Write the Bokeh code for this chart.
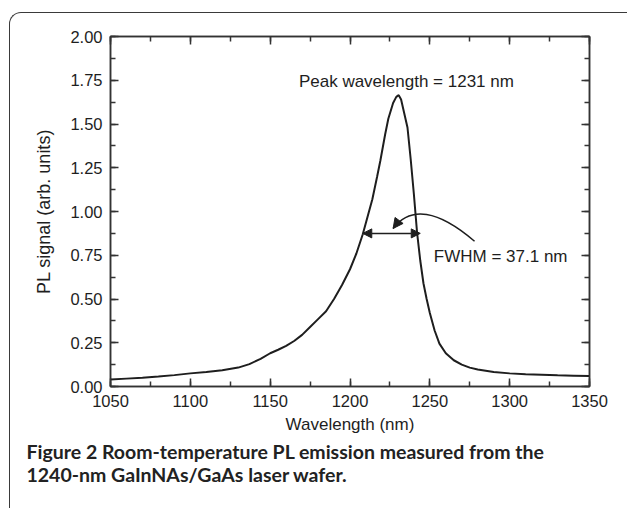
from bokeh.plotting import figure
from bokeh.models import (LinearAxis, SingleIntervalTicker, PrintfTickFormatter,
                          Label, Arrow, NormalHead, Range1d, Title, InlineStyleSheet)
from bokeh.embed import file_html
from bokeh.resources import INLINE

# ---- data ----
wavelength = [1050, 1060, 1070, 1080, 1090, 1100, 1110, 1120, 1130, 1137,
              1144, 1150, 1155, 1160, 1165, 1170, 1175, 1180, 1185, 1190, 1195,
              1200, 1204, 1208, 1211, 1214, 1217, 1219, 1222, 1224, 1227,
              1229, 1230.5, 1232, 1234, 1236, 1238, 1240, 1242, 1244, 1246,
              1248, 1250, 1253, 1256, 1260, 1265, 1270, 1275, 1280, 1290,
              1300, 1310, 1320, 1330, 1340, 1350]
pl_signal = [0.040, 0.045, 0.050, 0.057, 0.065, 0.075, 0.083, 0.093, 0.108, 0.128,
             0.158, 0.190, 0.210, 0.232, 0.260, 0.295, 0.340, 0.385, 0.430, 0.500, 0.580,
             0.670, 0.760, 0.870, 0.970, 1.070, 1.200, 1.290, 1.440, 1.530, 1.620,
             1.655, 1.665, 1.640, 1.560, 1.480, 1.300, 1.100, 0.880, 0.720, 0.590,
             0.500, 0.420, 0.320, 0.245, 0.190, 0.150, 0.125, 0.108, 0.097, 0.083,
             0.075, 0.070, 0.067, 0.064, 0.062, 0.060]

x_limits = (1050, 1350)
y_limits = (0, 2)
x_major, y_major = 50, 0.25

x_title = "Wavelength (nm)"
y_title = "PL signal (arb. units)"
peak_text = "Peak wavelength = 1231 nm"
fwhm_text = "FWHM = 37.1 nm"
fwhm_left, fwhm_right, fwhm_level = 1208, 1244, 0.875
caption_1 = "Figure 2 Room-temperature PL emission measured from the"
caption_2 = "1240-nm GaInNAs/GaAs laser wafer."

INK = "#1e1e1e"
AX = "#333333"
FONT = "Liberation Sans"

border_css = """
:host::after {
  content: ""; position: absolute; left: 9px; top: 12px; right: 0; bottom: 0;
  border-left: 1.6px solid #3a3a3a; border-top: 1.6px solid #3a3a3a;
  border-top-left-radius: 12px; pointer-events: none;
}
"""

p = figure(width=627, height=508, output_backend="svg", toolbar_location=None,
           x_range=Range1d(*x_limits), y_range=Range1d(*y_limits),
           min_border_left=110, min_border_right=38, min_border_top=36,
           min_border_bottom=122, x_axis_label=x_title,
           stylesheets=[InlineStyleSheet(css=border_css)])
p.background_fill_color = "white"
p.border_fill_color = "white"
p.outline_line_color = AX
p.outline_line_width = 1.5
p.xgrid.visible = False
p.ygrid.visible = False

def style_axis(ax, ticker, labels=True):
    ax.ticker = ticker
    ax.axis_line_color = AX
    ax.axis_line_width = 1.5
    ax.major_tick_line_color = AX
    ax.minor_tick_line_color = AX
    ax.major_tick_line_width = 1.5
    ax.minor_tick_line_width = 1.5
    ax.major_tick_in = 8
    ax.major_tick_out = 0
    ax.minor_tick_in = 5
    ax.minor_tick_out = 0
    ax.major_label_standoff = 8
    ax.major_label_text_font = FONT
    ax.major_label_text_font_size = "16.5px"
    ax.major_label_text_color = INK if labels else None
    ax.axis_label_text_font = FONT
    ax.axis_label_text_font_size = "17px"
    ax.axis_label_text_font_style = "normal"
    ax.axis_label_text_color = INK

style_axis(p.xaxis[0], SingleIntervalTicker(interval=x_major, num_minor_ticks=2))
style_axis(p.yaxis[0], SingleIntervalTicker(interval=y_major, num_minor_ticks=2))
p.yaxis[0].formatter = PrintfTickFormatter(format="%.2f")
p.xaxis[0].axis_label_standoff = 5

top_ax = LinearAxis()
style_axis(top_ax, SingleIntervalTicker(interval=x_major, num_minor_ticks=2), labels=False)
top_ax.major_label_standoff = 0
p.add_layout(top_ax, "above")
right_ax = LinearAxis()
style_axis(right_ax, SingleIntervalTicker(interval=y_major, num_minor_ticks=2), labels=False)
right_ax.major_label_standoff = 0
p.add_layout(right_ax, "right")

# y title placed as a side title so it can sit above the axis centre, as in the reference
p.add_layout(Title(text=y_title, align="center", offset=24, standoff=27,
                   text_font=FONT, text_font_size="18px", text_font_style="normal",
                   text_color=INK), "left")

p.line(wavelength, pl_signal, line_color=INK, line_width=2)

# FWHM double arrow
p.add_layout(Arrow(x_start=fwhm_left, y_start=fwhm_level, x_end=fwhm_right, y_end=fwhm_level,
                   line_color=INK, line_width=1.5,
                   start=NormalHead(size=9, fill_color=INK, line_color=INK),
                   end=NormalHead(size=9, fill_color=INK, line_color=INK)))

# curved pointer
p.quadratic(x0=[1278], y0=[0.83], x1=[1227], y1=[0.903], cx=[1243.5], cy=[1.099],
            line_color=INK, line_width=1.5)
p.add_layout(Arrow(x_start=1228.6, y_start=0.9226, x_end=1227, y_end=0.903,
                   line_alpha=0, line_width=0,
                   end=NormalHead(size=10, fill_color=INK, line_color=INK)))

p.add_layout(Label(x=1168, y=1.745, text=peak_text, text_font=FONT, text_font_size="17px",
                   text_color=INK, text_baseline="middle", text_align="left"))
p.add_layout(Label(x=1252.5, y=0.745, text=fwhm_text, text_font=FONT, text_font_size="17px",
                   text_color=INK, text_baseline="middle", text_align="left"))

# caption, two lines below the axis
for line, gap in ((caption_1, 2), (caption_2, -5)):
    p.add_layout(Title(text=line, align="left", offset=-84, standoff=gap,
                       text_font="Lato", text_font_style="bold", text_font_size="19.5px",
                       text_color="#222222"), "below")

open("out.html", "w").write(file_html(p, INLINE))
